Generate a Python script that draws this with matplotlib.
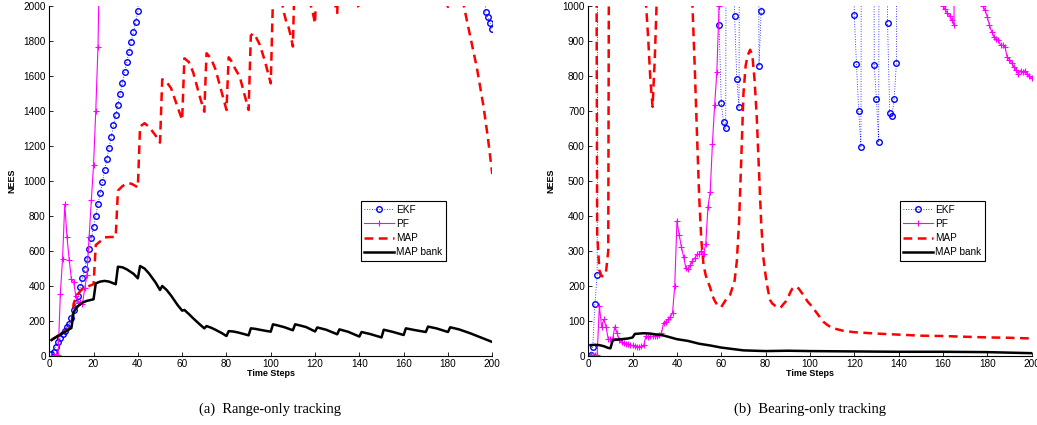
import matplotlib

matplotlib.use("Agg")
import matplotlib.pyplot as plt
import numpy as np

plt.rcParams["font.family"] = ["Liberation Sans", "DejaVu Sans"]

# ---- (a) Range-only tracking ----
ekf_a_t = list(range(1, 42)) + list(range(196, 201))
ekf_a = [11, 25, 50, 80, 105, 127, 145, 165, 185, 215,
         260, 300, 345, 392, 444, 499, 556, 613, 674, 735,
         800, 867, 930, 994, 1061, 1124, 1190, 1253, 1318, 1377,
         1436, 1497, 1560, 1621, 1678, 1735, 1796, 1851, 1910, 1970,
         4000, 4000, 1967, 1935, 1901, 1869]

pf_a_t = list(range(1, 24))
pf_a = [2, 2, 3, 5, 354, 556, 867, 682, 549, 440,
        423, 343, 305, 309, 297, 387, 461, 682, 891, 1093,
        1400, 1768, 2500]

map_a_t = [1, 10, 11, 12, 13, 14, 15, 17, 20, 21, 23, 25, 28, 30,
           31, 33, 35, 37, 40, 41, 43, 45, 48, 50, 51, 53, 55, 58, 60,
           61, 63, 65, 68, 70, 71, 73, 75, 78, 80, 81, 82, 84, 86, 88, 90,
           91, 92, 93, 95, 97, 98, 100, 101, 103, 105, 106, 107, 108, 109, 110,
           111, 115, 118, 119, 120, 121, 125, 129, 130, 131, 135, 139, 140,
           141, 150, 151, 160, 161, 170, 171, 180, 181, 184, 187, 190, 193,
           196, 198, 200]
map_a = [91, 165, 300, 330, 355, 370, 385, 395, 410, 634, 655, 678, 680, 680,
         945, 970, 987, 985, 964, 1311, 1330, 1310, 1260, 1219, 1581, 1565, 1530, 1420, 1349,
         1701, 1680, 1620, 1480, 1396, 1730, 1700, 1640, 1500, 1406, 1707, 1690, 1640, 1596, 1500, 1406,
         1830, 1844, 1830, 1780, 1700, 1654, 1558, 2050, 2150, 2020, 1960, 1910, 1880, 1830, 1768,
         2300, 2200, 2005, 1960, 1900, 2300, 2200, 2010, 1960, 2300, 2200, 2010, 1985,
         2300, 2050, 2300, 2050, 2300, 2050, 2250, 1995, 2250, 2150, 2010, 1830, 1650,
         1430, 1250, 1040]

bank_a_t = [1, 2, 4, 6, 8, 10, 11, 12, 13, 15, 17, 20, 21, 23, 25, 27, 30,
            31, 33, 35, 38, 40, 41, 43, 45, 48, 50, 51, 53, 55, 58, 60,
            61, 63, 65, 68, 70, 71, 73, 75, 78, 80, 81, 83, 85, 88, 90,
            91, 93, 95, 98, 100, 101, 103, 106, 110, 111, 113, 116, 120,
            121, 125, 130, 131, 135, 140, 141, 145, 150, 151, 155, 160,
            161, 165, 170, 171, 175, 180, 181, 185, 190, 195, 200]
bank_a = [91, 100, 115, 130, 145, 160, 250, 270, 285, 305, 315, 324, 415, 425, 429, 425, 410,
          510, 507, 495, 470, 444, 514, 500, 472, 420, 377, 400, 377, 345, 290, 259,
          263, 240, 215, 180, 158, 171, 162, 150, 130, 114, 142, 140, 135, 125, 118,
          158, 155, 150, 143, 139, 181, 175, 165, 147, 181, 175, 165, 140,
          163, 150, 124, 152, 138, 111, 137, 125, 106, 150, 138, 120,
          158, 148, 137, 168, 157, 137, 164, 152, 130, 105, 80]

# ---- (b) Bearing-only tracking ----
ekf_b_t = [1, 2, 3, 4, 5, 58, 59, 60, 61, 62, 63, 64, 65, 66, 67, 68, 69,
           76, 77, 78, 79, 119, 120, 121, 122, 123, 124,
           128, 129, 130, 131, 132, 134, 135, 136, 137, 138, 139, 140]
ekf_b = [3, 27, 149, 230, 4000, 4000, 947, 722, 669, 650, 4000, 4000, 4000, 971, 791, 711, 4000,
         4000, 828, 985, 4000, 4000, 974, 833, 700, 598, 4000,
         4000, 831, 733, 612, 4000, 4000, 952, 693, 685, 735, 836, 4000]

pf_b_t = list(range(1, 61)) + list(range(159, 167)) + list(range(177, 201))
pf_b = [2, 2, 2, 3, 143, 84, 105, 84, 48, 48,
        50, 84, 65, 46, 41, 36, 34, 33, 31, 30,
        29, 27, 27, 28, 30, 57, 55, 56, 56, 57,
        57, 60, 65, 95, 98, 105, 112, 122, 200, 386,
        347, 311, 284, 252, 249, 260, 272, 279, 290, 291,
        301, 291, 320, 427, 469, 606, 717, 812, 1000, 4000,
        4000, 1000, 990, 979, 972, 960, 945, 4000,
        4000, 1000, 988, 969, 945, 926, 912, 907, 902, 888,
        888, 883, 853, 847, 836, 826, 817, 807, 815, 812,
        815, 807, 800, 793]

map_b_t = [1, 3, 4, 5, 6, 7, 8, 9, 10, 25, 26, 27, 28, 29, 30, 31, 46,
           47, 48, 49, 50, 51, 52, 53, 54, 55, 56, 57, 58, 59, 60,
           61, 62, 63, 64, 65, 66, 67, 68, 69, 70, 71, 72, 73, 74, 75,
           76, 77, 78, 79, 80, 81, 82, 83, 84, 85, 86, 87, 88, 89, 90,
           91, 92, 93, 94, 95, 96, 97, 98, 99, 100, 102, 104, 106, 108, 110,
           115, 120, 130, 140, 150, 160, 170, 180, 190, 200]
map_b = [5000, 3000, 350, 245, 228, 228, 240, 300, 3000, 1800, 1010, 910, 790, 712, 850, 1040, 1800,
         1000, 830, 640, 460, 330, 260, 230, 212, 195, 172, 158, 148, 141, 140,
         150, 160, 168, 175, 195, 215, 270, 380, 560, 750, 830, 860, 875, 860, 790,
         683, 530, 380, 280, 230, 190, 160, 150, 145, 140, 137, 140, 148, 155, 165,
         180, 192, 197, 198, 192, 183, 175, 165, 155, 148, 132, 115, 98, 88, 80,
         72, 68, 64, 61, 58, 57, 55, 53, 52, 50]

bank_b_t = [1, 3, 5, 7, 9, 10, 11, 13, 15, 18, 20, 21, 23, 25, 28, 30, 33, 36,
            40, 45, 50, 55, 60, 65, 70, 80, 90, 100, 120, 140, 160, 180, 200]
bank_b = [31, 32, 31, 28, 23, 22, 45, 47, 48, 50, 53, 63, 64, 65, 64, 62, 60, 55,
          48, 43, 35, 30, 24, 20, 16, 14, 15, 14, 13, 12, 12, 11, 8]

labels = ["EKF", "PF", "MAP", "MAP bank"]


def _panel(ax, ekf, pf, mp, bank, ymax, ystep):
    ax.plot(ekf[0], ekf[1], color="blue", linestyle=(0, (1, 2)), linewidth=0.6,
            marker="o", markersize=4, markerfacecolor="none", markeredgewidth=1.0,
            label=labels[0])
    ax.plot(pf[0], pf[1], color="magenta", linestyle="-", linewidth=0.8,
            marker="+", markersize=4, markeredgewidth=0.8, label=labels[1])
    ax.plot(mp[0], mp[1], color="red", linestyle=(0, (3.5, 2.2)), linewidth=1.8,
            label=labels[2])
    ax.plot(bank[0], bank[1], color="black", linestyle="-", linewidth=1.8,
            label=labels[3])
    ax.set_xlim(0, 200)
    ax.set_ylim(0, ymax)
    ax.set_xticks(np.arange(0, 201, 20))
    ax.set_yticks(np.arange(0, ymax + 1, ystep))
    ax.tick_params(direction="in", length=3, width=0.6, labelsize=7.2, pad=2.5)
    for side in ("top", "right"):
        ax.spines[side].set_visible(False)
    for side in ("left", "bottom"):
        ax.spines[side].set_linewidth(0.8)
    ax.set_xlabel("Time Steps", fontsize=6.5, fontweight="bold", labelpad=0)
    ax.set_ylabel("NEES", fontsize=6.5, fontweight="bold", labelpad=5)
    leg = ax.legend(loc="upper left", bbox_to_anchor=(0.703, 0.442), fontsize=7.2,
                    handlelength=3.0, handletextpad=0.2, labelspacing=0.42,
                    borderpad=0.35, borderaxespad=0, numpoints=1,
                    fancybox=False, framealpha=1)
    leg.get_frame().set_edgecolor("black")
    leg.get_frame().set_linewidth(0.8)


fig = plt.figure(figsize=(10.37, 4.25), dpi=100)
ax_a = fig.add_axes([0.0475, 0.1624, 0.4272, 0.8235])
ax_b = fig.add_axes([0.5673, 0.1624, 0.4275, 0.8235])

_panel(ax_a, (ekf_a_t, ekf_a), (pf_a_t, pf_a), (map_a_t, map_a), (bank_a_t, bank_a), 2000, 200)
_panel(ax_b, (ekf_b_t, ekf_b), (pf_b_t, pf_b), (map_b_t, map_b), (bank_b_t, bank_b), 1000, 100)

cap_font = ["Liberation Serif", "DejaVu Serif"]
fig.text(270 / 1037, 1 - 409 / 425, "(a)  Range-only tracking", ha="center", va="center",
         fontsize=10.5, family=cap_font)
fig.text(810 / 1037, 1 - 409 / 425, "(b)  Bearing-only tracking", ha="center", va="center",
         fontsize=10.5, family=cap_font)

fig.savefig("out.png", dpi=100)
